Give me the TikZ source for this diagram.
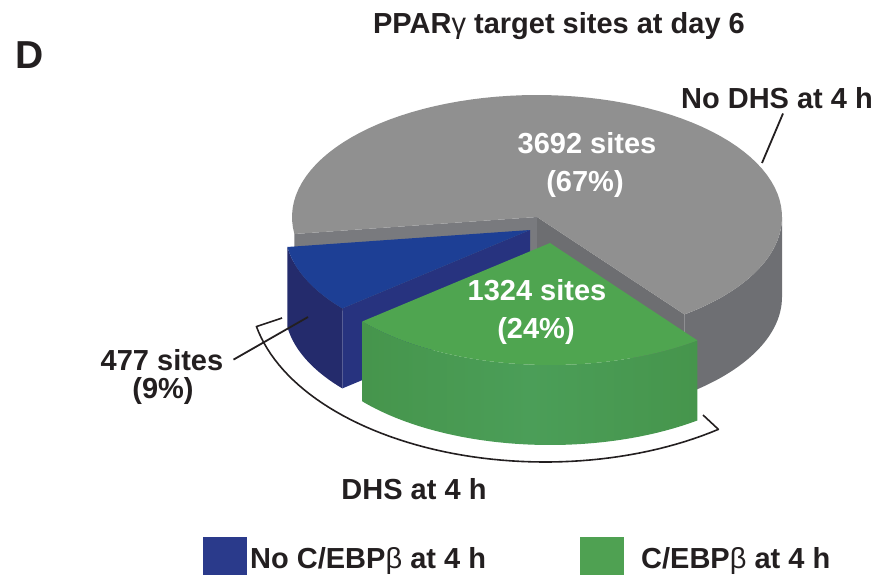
\documentclass[tikz,border=0pt]{standalone}
\usepackage{fontspec}
\setmainfont{Liberation Sans}
\usetikzlibrary{positioning}

\definecolor{pieGrayTop}{HTML}{909090}
\definecolor{pieGraySide}{HTML}{6E6F73}
\definecolor{pieGrayCut}{HTML}{797A7E}
\definecolor{pieBlueTop}{HTML}{1D3F95}
\definecolor{pieBlueCut}{HTML}{27337F}
\definecolor{pieBlueSide}{HTML}{242B6C}
\definecolor{pieGreenTop}{HTML}{4FA550}
\definecolor{pieGreenSide}{HTML}{46954C}
\definecolor{pieGreenMid}{HTML}{4B9E58}
\definecolor{keyBlue}{HTML}{2A3A8B}
\definecolor{keyGreen}{HTML}{4FA152}
\definecolor{labelInk}{HTML}{231F20}

\begin{document}
\begin{tikzpicture}[x=1pt, y=-1pt,
    lbl/.style={inner sep=0pt, text=labelInk, font=\fontsize{29}{34}\selectfont\bfseries},
    inlbl/.style={lbl, text=white},
    leader/.style={draw=labelInk, line width=1.8pt},
    keybox/.style={draw=none, minimum width=44pt, minimum height=38pt, inner sep=0pt}]
    \useasboundingbox (0,0) rectangle (888,576);

    % radii of the top ellipse and height of the pie (pixels)
    \def\pierx{245}
    \def\piery{122}
    \def\pieh{80}

    \coordinate (grayC) at (537,217);
    \coordinate (blueC) at (530,230);
    \coordinate (greenC) at (550,243);

    % gray slice: no DHS (172 to 413 degrees)
    \begin{scope}[shift={(grayC)}]
        \fill[pieGrayCut] (0,0) -- ({\pierx*cos(172)},{\piery*sin(172)}) -- ++(0,\pieh) -- (0,\pieh) -- cycle;
        \fill[pieGrayCut!90!black] (0,0) -- ({\pierx*cos(53)},{\piery*sin(53)}) -- ++(0,\pieh) -- (0,\pieh) -- cycle;
        \fill[pieGraySide] plot[domain=0:53, samples=30] ({\pierx*cos(\x)},{\piery*sin(\x)})
            -- plot[domain=53:0, samples=30] ({\pierx*cos(\x)},{\piery*sin(\x)+\pieh}) -- cycle;
        \fill[pieGrayTop] (0,0) -- plot[domain=172:413, samples=80] ({\pierx*cos(\x)},{\piery*sin(\x)}) -- cycle;
    \end{scope}

    % blue slice: no C/EBPb (140 to 172 degrees)
    \begin{scope}[shift={(blueC)}]
        \fill[pieBlueCut] (0,0) -- ({\pierx*cos(140)},{\piery*sin(140)}) -- ++(0,\pieh) -- (0,\pieh) -- cycle;
        \fill[pieBlueSide] plot[domain=140:172, samples=20] ({\pierx*cos(\x)},{\piery*sin(\x)})
            -- plot[domain=172:140, samples=20] ({\pierx*cos(\x)},{\piery*sin(\x)+\pieh}) -- cycle;
        \fill[pieBlueTop] (0,0) -- plot[domain=140:172, samples=20] ({\pierx*cos(\x)},{\piery*sin(\x)}) -- cycle;
    \end{scope}

    % green slice: C/EBPb (53 to 140 degrees)
    \begin{scope}[shift={(greenC)}]
        \shade[left color=pieGreenSide, right color=pieGreenSide, middle color=pieGreenMid]
            plot[domain=53:140, samples=40] ({\pierx*cos(\x)},{\piery*sin(\x)})
            -- plot[domain=140:53, samples=40] ({\pierx*cos(\x)},{\piery*sin(\x)+\pieh}) -- cycle;
        \fill[pieGreenTop] (0,0) -- plot[domain=53:140, samples=40] ({\pierx*cos(\x)},{\piery*sin(\x)}) -- cycle;
    \end{scope}

    % labels
    \node[lbl, anchor=base] (title) at (559,33) {PPAR{\mdseries γ} target sites at day 6};
    \node[lbl, anchor=base west, font=\fontsize{39}{44}\selectfont\bfseries] (panel) at (15,68) {D};
    \node[lbl, anchor=base] (nodhs) at (777,108) {No DHS at 4 h};
    \node[inlbl, anchor=base] (s3692) at (587,153) {3692 sites};
    \node[inlbl, anchor=base] (p67) at (585,191) {(67\%)};
    \node[inlbl, anchor=base] (s1324) at (537,300) {1324 sites};
    \node[inlbl, anchor=base] (p24) at (536,338) {(24\%)};
    \node[lbl, anchor=base] (s477) at (162,370) {477 sites};
    \node[lbl, anchor=base] (p9) at (163,398) {(9\%)};
    \node[lbl, anchor=base] (dhs) at (414,499) {DHS at 4 h};

    % leader lines
    \coordinate (grayRim) at (762,163);
    \coordinate (blueRim) at (308,317);
    \draw[leader] ([shift={(6,5)}]nodhs.south) -- (grayRim);
    \draw[leader] ([xshift=10pt]s477.east) -- (blueRim);

    % bracket round the DHS slices
    \coordinate (brLeft) at (282,318);
    \coordinate (brRight) at (703,415);
    \draw[leader, line width=1.6pt, line join=round] (brLeft)
        -- plot[domain=168:54, samples=60] ({545+295*cos(\x)},{291+171*sin(\x)}) -- (brRight);

    % key
    \node[keybox, fill=keyBlue] (keyNoCebp) at (225,556) {};
    \node[lbl, anchor=base west] (txtNoCebp) at (250,568) {No C/EBP{\mdseries β} at 4 h};
    \node[keybox, fill=keyGreen] (keyCebp) at (601.5,556) {};
    \node[lbl, anchor=base west] (txtCebp) at (641,568) {C/EBP{\mdseries β} at 4 h};
\end{tikzpicture}
\end{document}
